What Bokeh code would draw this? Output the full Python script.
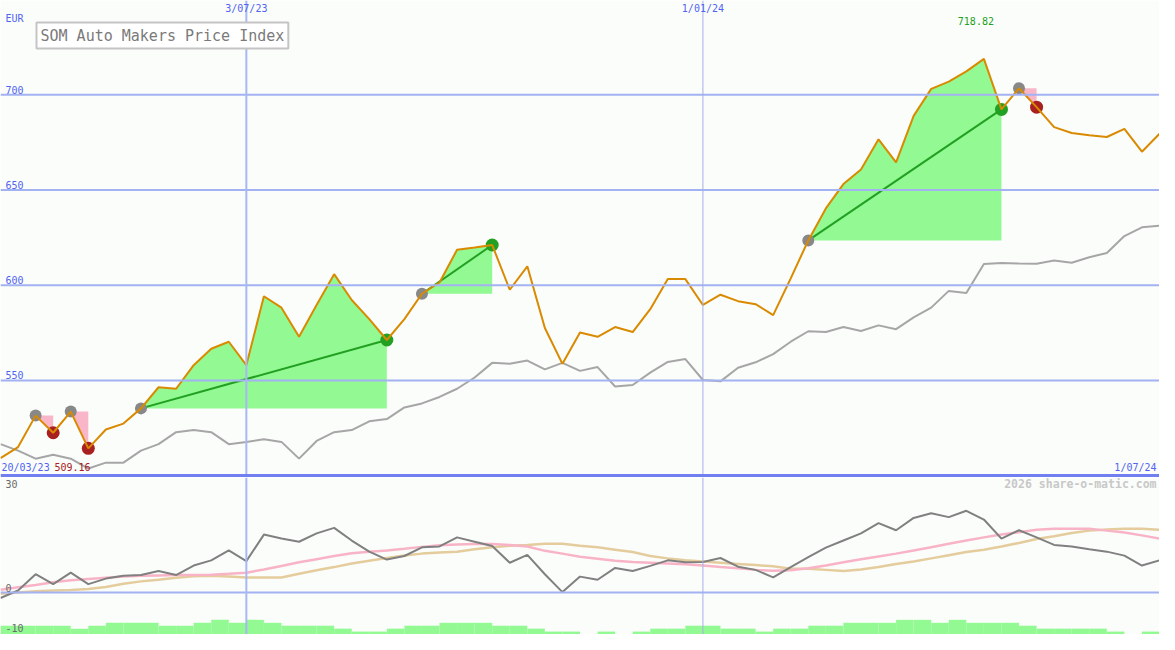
import pandas as pd
from bokeh.plotting import figure
from bokeh.layouts import column
from bokeh.models import Range1d, Span, Label
from bokeh.embed import file_html
from bokeh.resources import INLINE

# ---------------- data ----------------
dates = pd.date_range("2023-03-27", periods=67, freq="7D")

price = [509.16, 515.0, 531.5, 522.5, 533.6, 514.3, 524.2, 527.3, 535.3, 546.4,
         545.6, 558.0, 566.6, 570.3, 558.0, 594.2, 588.2, 572.9, 589.6, 605.8,
         592.2, 582.2, 571.2, 582.2, 595.5, 601.4, 618.6, 619.8, 621.1, 597.6,
         609.9, 577.5, 558.7, 575.1, 572.9, 578.0, 575.4, 587.4, 603.2, 603.2,
         589.6, 595.0, 591.6, 590.0, 584.3, 603.6, 623.5, 640.3, 653.1, 660.8,
         676.6, 664.5, 688.9, 703.1, 706.9, 712.3, 718.82, 692.3, 703.4, 693.5,
         683.0, 679.9, 678.7, 677.8, 682.1, 670.1, 679.5]

comparison = [516.5, 513.1, 508.9, 510.9, 508.9, 503.7, 506.8, 506.8, 513.1, 516.5,
              522.8, 523.9, 522.8, 516.5, 517.7, 519.1, 517.7, 508.9, 518.2, 522.8,
              523.9, 528.5, 529.7, 535.8, 537.9, 541.3, 545.6, 551.5, 559.2, 558.7,
              560.4, 555.8, 559.2, 555.0, 557.0, 546.8, 547.6, 554.1, 559.7, 561.2,
              550.2, 549.5, 556.6, 559.5, 563.8, 570.3, 575.8, 575.4, 578.0, 575.9,
              578.9, 576.9, 583.1, 588.2, 597.0, 595.9, 611.1, 611.6, 611.4, 611.3,
              613.0, 611.8, 614.7, 616.9, 625.8, 630.4, 631.2]

momentum = [-1.4, 0.5, 4.6, 2.1, 5.0, 2.1, 3.5, 4.2, 4.4, 5.4,
            4.4, 6.8, 8.1, 10.6, 7.9, 14.6, 13.6, 12.8, 14.9, 16.3,
            13.1, 10.3, 8.3, 9.2, 11.4, 11.6, 13.9, 12.8, 11.7, 7.5,
            9.5, 4.6, 0.1, 4.0, 3.2, 6.2, 5.4, 6.7, 8.1, 7.6,
            7.7, 8.7, 6.5, 5.7, 3.8, 6.4, 8.9, 11.3, 13.1, 14.9,
            17.5, 15.7, 18.8, 20.0, 19.0, 20.6, 18.4, 13.6, 15.7, 13.9,
            12.0, 11.6, 10.9, 10.3, 9.3, 6.8, 8.1]

avg_fast = [0.7, 1.3, 1.9, 2.6, 3.1, 3.4, 3.7, 4.0, 4.2, 4.3,
            4.4, 4.4, 4.5, 4.7, 5.0, 5.8, 6.7, 7.6, 8.4, 9.2,
            9.9, 10.3, 10.6, 11.0, 11.5, 11.9, 12.1, 12.2, 12.2, 12.0,
            11.6, 10.5, 9.8, 9.0, 8.5, 8.0, 7.7, 7.5, 7.3, 7.1,
            6.8, 6.4, 6.1, 5.7, 5.5, 5.6, 6.1, 6.8, 7.6, 8.4,
            9.1, 9.8, 10.6, 11.4, 12.3, 13.1, 13.9, 14.6, 15.2, 15.8,
            16.1, 16.1, 16.1, 15.6, 15.1, 14.4, 13.6]

avg_slow = [-0.3, 0.0, 0.3, 0.5, 0.6, 0.9, 1.4, 2.2, 2.8, 3.2,
            3.7, 4.1, 4.2, 4.0, 3.8, 3.8, 3.8, 4.7, 5.6, 6.4,
            7.3, 8.0, 8.7, 9.3, 9.8, 10.1, 10.3, 10.9, 11.4, 11.8,
            12.0, 12.3, 12.3, 11.8, 11.4, 10.8, 10.2, 9.2, 8.6, 8.1,
            7.8, 7.5, 7.2, 6.9, 6.6, 6.0, 6.0, 5.7, 5.4, 5.8,
            6.4, 7.2, 7.8, 8.6, 9.4, 10.2, 10.8, 11.6, 12.5, 13.5,
            14.2, 15.0, 15.6, 15.9, 16.1, 16.1, 15.8]

volume_level = [3, 3, 3, 3, 2, 3, 4, 4, 4, 3, 3, 4, 5, 4, 5, 4, 3, 3, 3, 2,
                1, 1, 2, 3, 3, 4, 4, 4, 3, 3, 2, 1, 1, 0, 1, 0, 1, 2, 2, 3,
                3, 2, 2, 1, 2, 2, 3, 3, 4, 4, 4, 5, 5, 4, 5, 4, 4, 4, 3, 2,
                2, 2, 2, 1, 0, 1]

rise_start = [8, 24, 46]
rise_end = [22, 28, 57]
fall_start = [2, 4, 58]
fall_end = [3, 5, 59]

price_grid = [550, 600, 650, 700]
price_axis_floor = 500
period_lines = ["2023-07-03", "2024-01-01"]
period_labels = ["3/07/23", "1/01/24"]
start_label = "20/03/23"
end_label = "1/07/24"

# ---------------- styling ----------------
BG = "#fbfdfb"
BLUE_TXT = "#5064f0"
GRID = "#a3b2f2"
FONT = "DejaVu Sans Mono"
ORANGE = "#d98a00"
GREEN_FILL = "#93f993"
PINK_FILL = "#f9b6c9"
GREEN = "#22a022"
RED = "#a82020"
GRAYM = "#888888"

x = [d.value / 1e6 for d in dates]
def ms(s):
    return pd.Timestamp(s).value / 1e6

W = 1159
TOP_H = 477
BOT_H = 157

xr = Range1d(x[0], x[-1])

def base_fig(h, yr):
    f = figure(width=W, height=h, x_range=xr, y_range=yr,
               x_axis_location=None, y_axis_location=None,
               output_backend="svg", toolbar_location=None,
               min_border=0, background_fill_color=BG, border_fill_color=BG)
    f.grid.visible = False
    f.outline_line_color = None
    return f

# ---------------- price panel ----------------
p = base_fig(TOP_H, Range1d(499.0, 749.5))

for g in price_grid:
    p.add_layout(Span(location=g, dimension="width", line_color=GRID, line_width=2))
p.add_layout(Span(location=ms(period_lines[0]), dimension="height", line_color="#a8b8f4", line_width=2))
p.add_layout(Span(location=ms(period_lines[1]), dimension="height", line_color="#a6aee6", line_width=1))

# rise areas
for a, b in zip(rise_start, rise_end):
    p.varea(x=x[a:b + 1], y1=[price[a]] * (b - a + 1), y2=price[a:b + 1], fill_color=GREEN_FILL)
# fall areas
for a, b in zip(fall_start, fall_end):
    p.varea(x=x[a:b + 1], y1=price[a:b + 1], y2=[price[a]] * (b - a + 1), fill_color=PINK_FILL)

p.line(x, comparison, line_color="#a6a6a6", line_width=2)

for a, b in zip(rise_start, rise_end):
    p.line([x[a], x[b]], [price[a], price[b]], line_color=GREEN, line_width=2)

p.scatter([x[i] for i in rise_start + fall_start], [price[i] for i in rise_start + fall_start],
          size=12, fill_color=GRAYM, line_color=None)
p.scatter([x[i] for i in rise_end], [price[i] for i in rise_end], size=13, fill_color=GREEN, line_color=None)
p.scatter([x[i] for i in fall_end], [price[i] for i in fall_end], size=13, fill_color=RED, line_color=None)

p.line(x, price, line_color=ORANGE, line_width=2)

for g in price_grid:
    p.add_layout(Label(x=x[0], y=g, text=str(g), x_offset=5, y_offset=1, text_baseline="bottom",
                       text_font=FONT, text_font_size="10px", text_color=BLUE_TXT))
p.add_layout(Label(x=x[0], y=740.3, text="EUR", x_offset=5, text_baseline="middle",
                   text_font=FONT, text_font_size="10px", text_color=BLUE_TXT))
for d, t in zip(period_lines, period_labels):
    p.add_layout(Label(x=ms(d), y=745.4, text=t, text_align="center", text_baseline="middle",
                       text_font=FONT, text_font_size="10px", text_color=BLUE_TXT))
p.add_layout(Label(x=x[0], y=731.1, text="SOM Auto Makers Price Index", x_offset=36,
                   text_baseline="middle", text_font=FONT, text_font_size="15px",
                   text_color="#7a7a7a", border_line_color="#c4c4c4", border_line_width=2,
                   background_fill_color="#ffffff", padding=4))
imax = price.index(max(price))
p.add_layout(Label(x=x[imax], y=738.8, text=f"{max(price):.2f}", x_offset=-8, text_align="center",
                   text_baseline="middle", text_font=FONT, text_font_size="10px", text_color=GREEN))
p.add_layout(Label(x=x[0], y=504.3, text=start_label, x_offset=1, text_baseline="middle",
                   text_font=FONT, text_font_size="10px", text_color=BLUE_TXT))
p.add_layout(Label(x=x[0], y=504.3, text=f"{price[0]:.2f}", x_offset=54, text_baseline="middle",
                   text_font=FONT, text_font_size="10px", text_color=RED))
p.add_layout(Label(x=x[-1], y=504.3, text=end_label, x_offset=-3, text_align="right", text_baseline="middle",
                   text_font=FONT, text_font_size="10px", text_color=BLUE_TXT))
p.add_layout(Span(location=price_axis_floor, dimension="width", line_color="#7080f0", line_width=3))

# ---------------- indicator panel ----------------
q = base_fig(BOT_H, Range1d(-10.6, 29.0))
q.extra_y_ranges = {"vol": Range1d(0, 53.6)}
q.add_layout(Span(location=0, dimension="width", line_color=GRID, line_width=2))
q.add_layout(Span(location=ms(period_lines[0]), dimension="height", line_color="#a8b8f4", line_width=2))
q.add_layout(Span(location=ms(period_lines[1]), dimension="height", line_color="#a6aee6", line_width=1))

q.quad(left=x[:-1], right=x[1:], bottom=[0] * len(volume_level), top=volume_level,
       y_range_name="vol", fill_color=GREEN_FILL, line_color=None)
q.line(x, avg_slow, line_color="#e4cc9c", line_width=2.5)
q.line(x, avg_fast, line_color="#f8b4c6", line_width=2.5)
q.line(x, momentum, line_color="#808080", line_width=2)

q.add_layout(Label(x=x[-1], y=27.3, text="2026 share-o-matic.com", x_offset=-3, text_align="right",
                   text_baseline="middle", text_font=FONT, text_font_size="11.5px",
                   text_font_style="bold", text_color="#c8c8c8"))
for yv, t in [(27.3, "30"), (1.2, "0"), (-8.9, "-10")]:
    q.add_layout(Label(x=x[0], y=yv, text=t, x_offset=5, text_baseline="middle",
                       text_font=FONT, text_font_size="10px", text_color="#6a6a6a"))

layout = column(p, q, spacing=0)
open("out.html", "w").write(file_html(layout, INLINE))
